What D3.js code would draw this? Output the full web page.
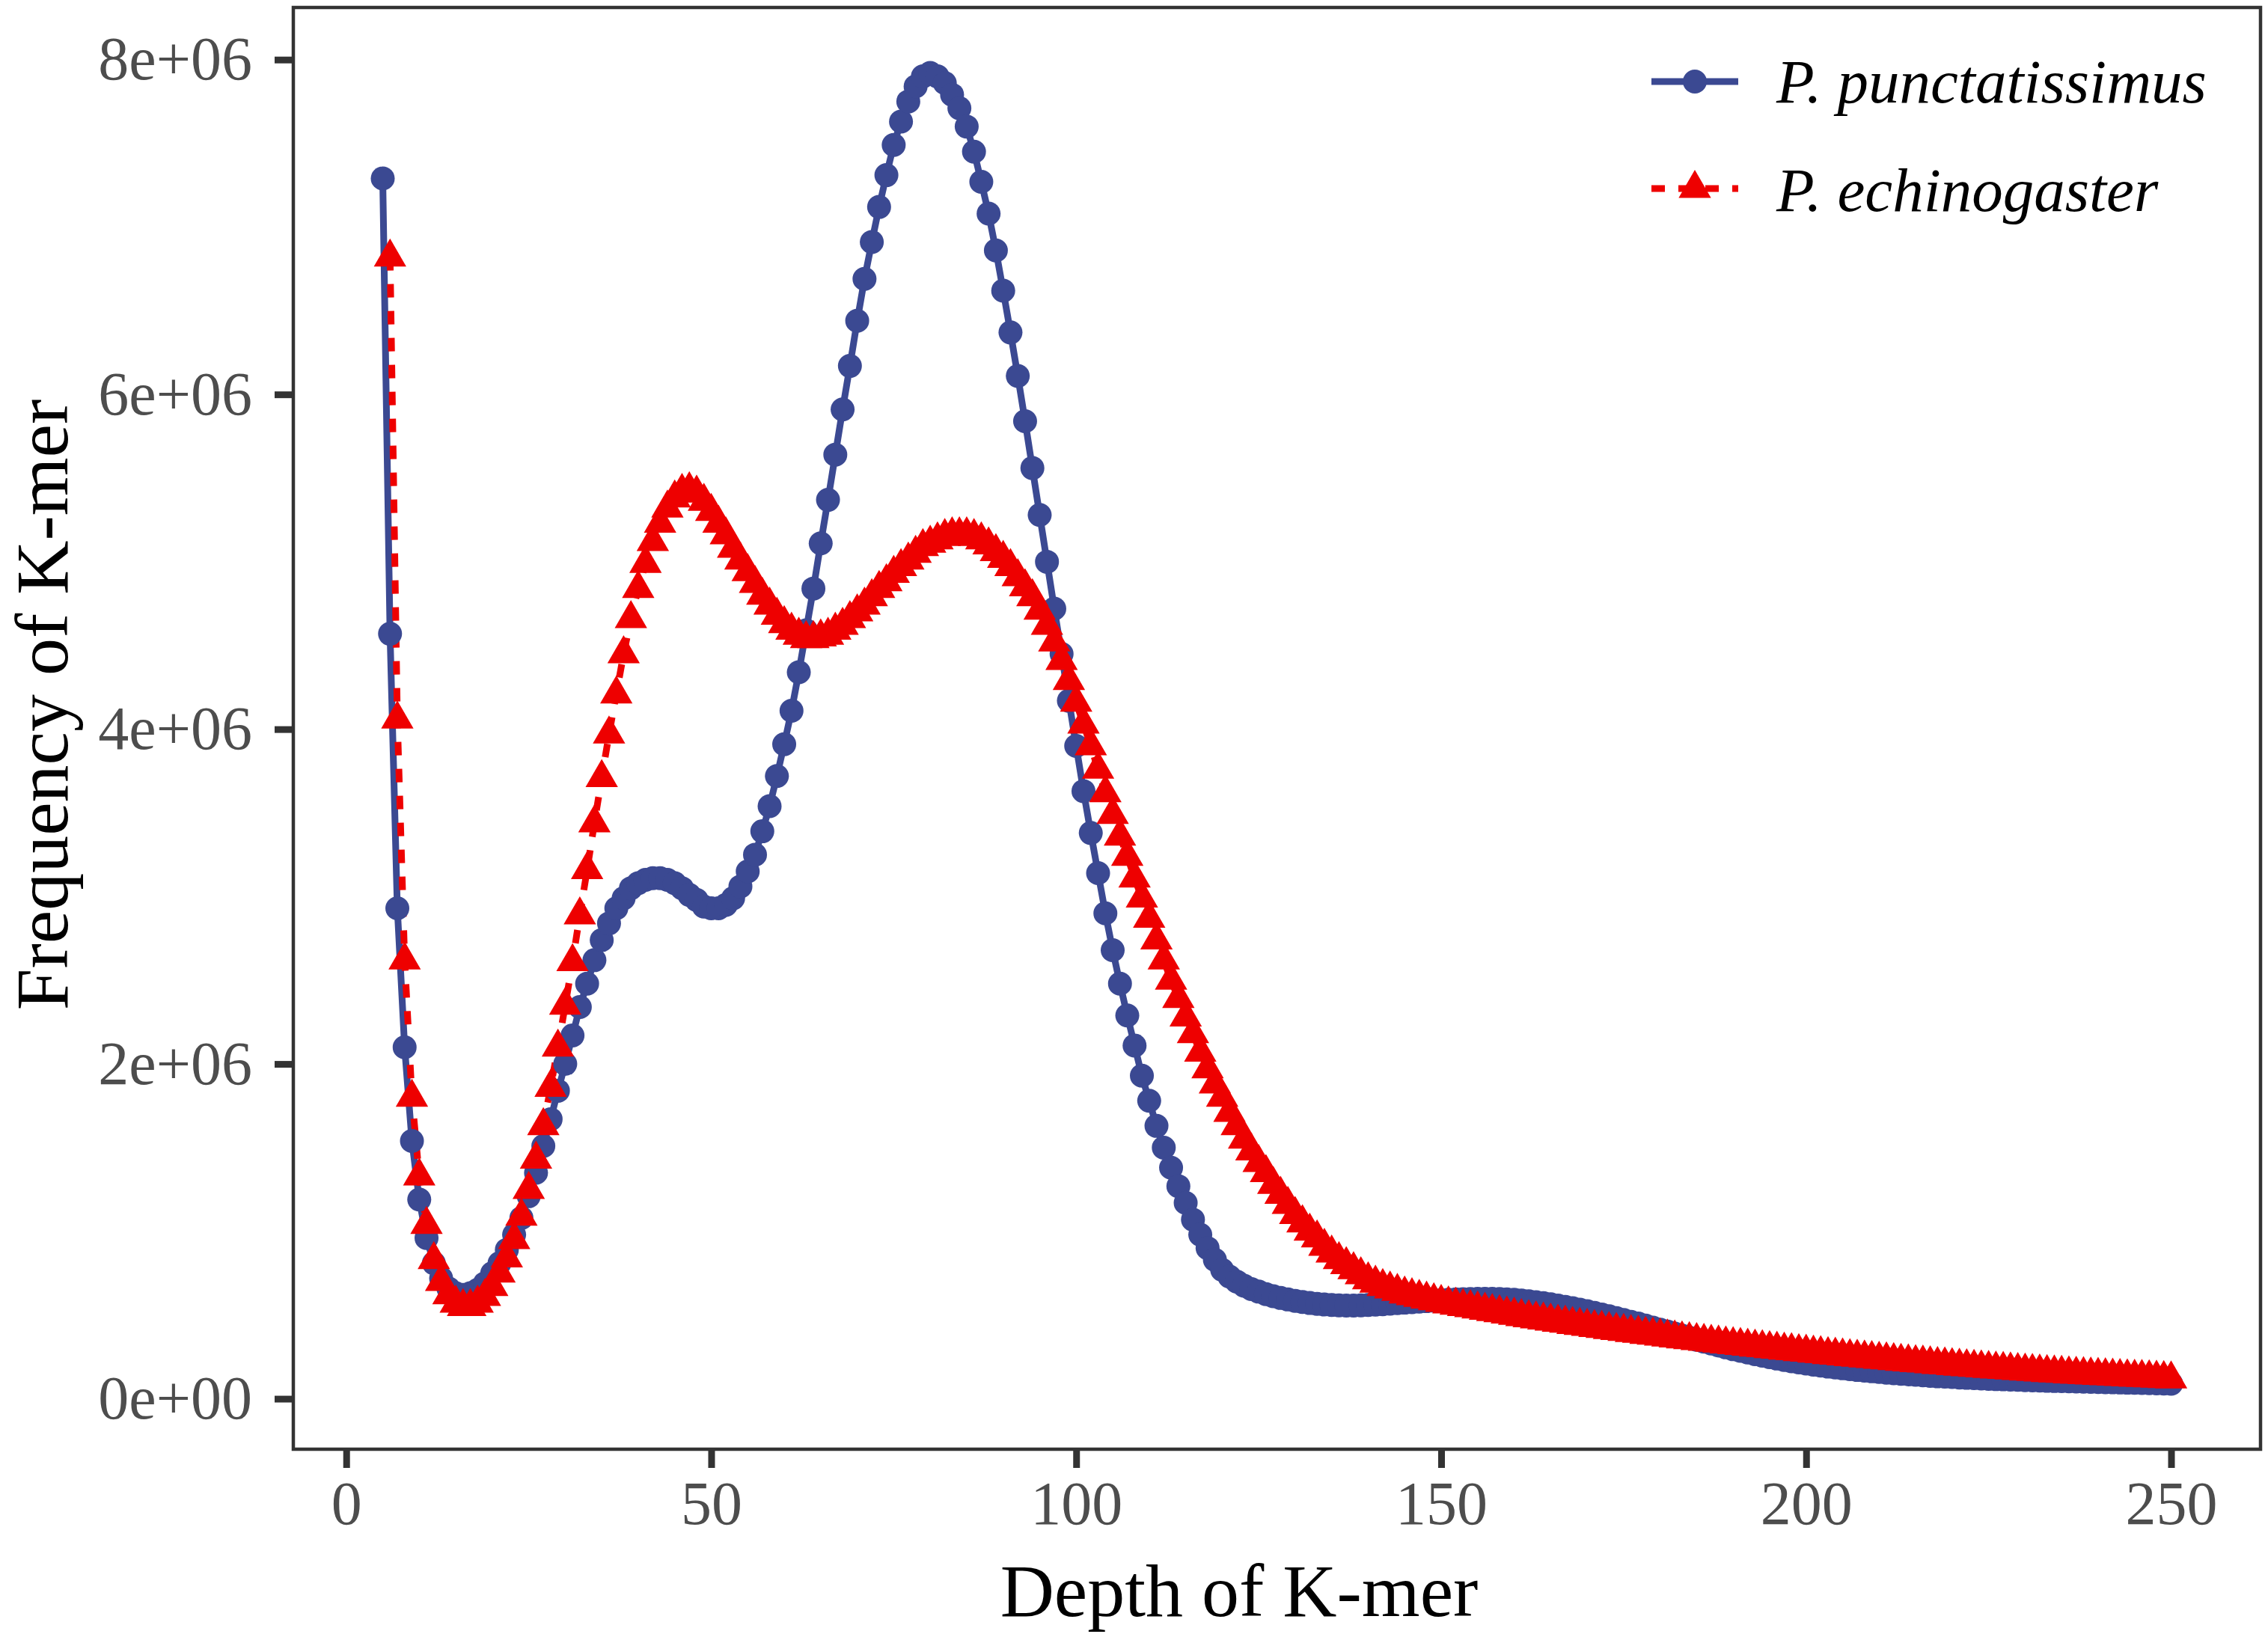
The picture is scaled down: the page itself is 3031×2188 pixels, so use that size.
<!DOCTYPE html>
<html>
<head>
<meta charset="utf-8">
<script src="https://cdn.jsdelivr.net/npm/d3@7"></script>
<style>
  body { margin: 0; background: #fff; }
  svg { display: block; font-family: 'Liberation Serif', 'Times New Roman', serif; }
</style>
</head>
<body>
<div id="chart"></div>
<script>
// k-mer depth (x) shared by both series
const depth = [
  5, 6, 7, 8, 9, 10, 11, 12, 13, 14,
  15, 16, 17, 18, 19, 20, 21, 22, 23, 24,
  25, 26, 27, 28, 29, 30, 31, 32, 33, 34,
  35, 36, 37, 38, 39, 40, 41, 42, 43, 44,
  45, 46, 47, 48, 49, 50, 51, 52, 53, 54,
  55, 56, 57, 58, 59, 60, 61, 62, 63, 64,
  65, 66, 67, 68, 69, 70, 71, 72, 73, 74,
  75, 76, 77, 78, 79, 80, 81, 82, 83, 84,
  85, 86, 87, 88, 89, 90, 91, 92, 93, 94,
  95, 96, 97, 98, 99, 100, 101, 102, 103, 104,
  105, 106, 107, 108, 109, 110, 111, 112, 113, 114,
  115, 116, 117, 118, 119, 120, 121, 122, 123, 124,
  125, 126, 127, 128, 129, 130, 131, 132, 133, 134,
  135, 136, 137, 138, 139, 140, 141, 142, 143, 144,
  145, 146, 147, 148, 149, 150, 151, 152, 153, 154,
  155, 156, 157, 158, 159, 160, 161, 162, 163, 164,
  165, 166, 167, 168, 169, 170, 171, 172, 173, 174,
  175, 176, 177, 178, 179, 180, 181, 182, 183, 184,
  185, 186, 187, 188, 189, 190, 191, 192, 193, 194,
  195, 196, 197, 198, 199, 200, 201, 202, 203, 204,
  205, 206, 207, 208, 209, 210, 211, 212, 213, 214,
  215, 216, 217, 218, 219, 220, 221, 222, 223, 224,
  225, 226, 227, 228, 229, 230, 231, 232, 233, 234,
  235, 236, 237, 238, 239, 240, 241, 242, 243, 244,
  245, 246, 247, 248, 249, 250,
];

// P. punctatissimus frequencies
const punctatissimus = [
  7290000, 4570000, 2930000, 2100000, 1540000, 1190000, 960000, 810000, 720000, 660000,
  630000, 620000, 630000, 650000, 690000, 750000, 810000, 890000, 980000, 1080000,
  1210000, 1350000, 1510000, 1670000, 1840000, 2000000, 2170000, 2340000, 2480000, 2620000,
  2740000, 2840000, 2930000, 2990000, 3050000, 3080000, 3100000, 3110000, 3110000, 3100000,
  3080000, 3050000, 3010000, 2980000, 2940000, 2930000, 2930000, 2950000, 2990000, 3060000,
  3150000, 3250000, 3390000, 3540000, 3720000, 3910000, 4110000, 4340000, 4590000, 4840000,
  5110000, 5370000, 5640000, 5910000, 6170000, 6440000, 6690000, 6910000, 7120000, 7310000,
  7490000, 7630000, 7750000, 7840000, 7900000, 7920000, 7900000, 7860000, 7790000, 7710000,
  7600000, 7450000, 7270000, 7080000, 6860000, 6620000, 6370000, 6110000, 5840000, 5560000,
  5280000, 5000000, 4720000, 4450000, 4170000, 3900000, 3630000, 3380000, 3140000, 2900000,
  2680000, 2480000, 2290000, 2110000, 1930000, 1780000, 1630000, 1500000, 1380000, 1270000,
  1170000, 1070000, 980000, 900000, 830000, 770000, 730000, 700000, 675000, 655000,
  640000, 625000, 613000, 602000, 593000, 585000, 578000, 572000, 567000, 563000,
  560000, 558000, 557000, 557000, 558000, 560000, 562000, 565000, 568000, 571000,
  574000, 577000, 580000, 583000, 586000, 589000, 591000, 593000, 595000, 596000,
  597000, 597000, 597000, 596000, 594000, 591000, 587000, 582000, 577000, 571000,
  564000, 557000, 549000, 541000, 532000, 523000, 513000, 503000, 493000, 482000,
  471000, 460000, 449000, 437000, 425000, 413000, 401000, 389000, 377000, 365000,
  353000, 341000, 330000, 318000, 307000, 296000, 286000, 276000, 266000, 257000,
  248000, 240000, 232000, 224000, 217000, 210000, 204000, 198000, 192000, 187000,
  182000, 177000, 172000, 168000, 164000, 160000, 156000, 152000, 149000, 146000,
  143000, 140000, 137000, 134000, 132000, 130000, 127000, 125000, 123000, 121000,
  119000, 117000, 116000, 114000, 113000, 111000, 110000, 109000, 107000, 106000,
  105000, 104000, 103000, 102000, 101000, 100000, 99000, 98000, 97000, 96000,
  95000, 94000, 93000, 92000, 91000, 90000,
];

// P. echinogaster frequencies (no value at depth 5)
const echinogaster = [
  null, 6820000, 4060000, 2620000, 1800000, 1330000, 1040000, 830000, 700000, 620000,
  570000, 550000, 550000, 570000, 610000, 670000, 750000, 840000, 950000, 1090000,
  1250000, 1430000, 1630000, 1860000, 2100000, 2350000, 2610000, 2890000, 3160000, 3440000,
  3710000, 3970000, 4210000, 4450000, 4660000, 4840000, 4990000, 5120000, 5230000, 5320000,
  5380000, 5420000, 5430000, 5410000, 5360000, 5300000, 5230000, 5160000, 5080000, 5010000,
  4940000, 4870000, 4800000, 4740000, 4680000, 4630000, 4590000, 4560000, 4540000, 4540000,
  4550000, 4560000, 4590000, 4620000, 4660000, 4700000, 4740000, 4790000, 4840000, 4880000,
  4930000, 4970000, 5010000, 5050000, 5090000, 5110000, 5130000, 5150000, 5160000, 5160000,
  5160000, 5150000, 5130000, 5100000, 5060000, 5020000, 4970000, 4910000, 4850000, 4790000,
  4710000, 4620000, 4520000, 4410000, 4290000, 4160000, 4030000, 3900000, 3760000, 3620000,
  3490000, 3360000, 3240000, 3110000, 2990000, 2870000, 2740000, 2620000, 2500000, 2390000,
  2280000, 2180000, 2070000, 1970000, 1880000, 1800000, 1710000, 1630000, 1550000, 1480000,
  1410000, 1350000, 1280000, 1220000, 1160000, 1100000, 1050000, 1000000, 960000, 910000,
  870000, 830000, 800000, 770000, 740000, 710000, 690000, 670000, 655000, 640000,
  625000, 615000, 605000, 595000, 585000, 575000, 566000, 558000, 550000, 543000,
  535000, 528000, 520000, 513000, 505000, 498000, 490000, 483000, 476000, 470000,
  463000, 456000, 450000, 443000, 437000, 431000, 425000, 419000, 413000, 407000,
  401000, 395000, 390000, 384000, 379000, 373000, 368000, 362000, 357000, 352000,
  347000, 342000, 337000, 332000, 327000, 322000, 318000, 313000, 308000, 304000,
  299000, 295000, 290000, 286000, 281000, 277000, 272000, 268000, 263000, 259000,
  255000, 251000, 247000, 243000, 239000, 235000, 231000, 227000, 223000, 219000,
  215000, 212000, 208000, 204000, 201000, 197000, 194000, 190000, 187000, 184000,
  180000, 177000, 174000, 171000, 168000, 165000, 162000, 159000, 156000, 153000,
  151000, 148000, 146000, 143000, 141000, 139000, 136000, 134000, 132000, 130000,
  128000, 126000, 124000, 122000, 120000, 118000,
];

const seriesNames = ['P. punctatissimus', 'P. echinogaster'];
const xTicks = [0, 50, 100, 150, 200, 250];
const yTicks = [0, 2000000, 4000000, 6000000, 8000000];

class KmerChart {
  constructor(element) {
    this.element = element;

    this.init();
  }

  init() {
    this.initSvg();
    this.initScales();
    this.drawAxes();
    this.drawSeries();
    this.drawBorder();
    this.drawLegend();
  }

  getConstants() {
    const width = 3031;
    const height = 2188;
    const panel = { left: 392, right: 3021, top: 10, bottom: 1937 };
    const colors = ['#3B4992', '#EE0000'];
    const lineWidth = 9;
    return {
      width, height, panel, colors, lineWidth,
    };
  }

  initSvg() {
    const { width, height } = this.getConstants();
    this.svg = d3.select(this.element)
      .append('svg')
      .attr('width', width)
      .attr('height', height);
    this.svg.append('rect')
      .attr('width', width)
      .attr('height', height)
      .attr('fill', '#ffffff');
  }

  // ggplot-like 5% expansion on both sides
  expand([lo, hi]) {
    const pad = (hi - lo) * 0.05;
    return [lo - pad, hi + pad];
  }

  initScales() {
    const { panel } = this.getConstants();
    const allValues = punctatissimus.concat(echinogaster).filter((v) => v != null);
    this.x = d3.scaleLinear()
      .domain(this.expand(d3.extent(depth)))
      .range([panel.left, panel.right]);
    this.y = d3.scaleLinear()
      .domain(this.expand(d3.extent(allValues)))
      .range([panel.bottom, panel.top]);
  }

  sciFormat(d) {
    const [mantissa, exp] = d3.format('.0e')(d).split('e');
    return `${mantissa}e${exp[0]}${exp.slice(1).padStart(2, '0')}`;
  }

  styleAxis(axisGroup) {
    axisGroup.select('.domain').remove();
    axisGroup.selectAll('.tick line')
      .attr('stroke', '#333333')
      .attr('stroke-width', 9);
    axisGroup.selectAll('.tick text')
      .attr('fill', '#4D4D4D')
      .style('font-size', '82px')
      .style('font-family', "'Liberation Serif', 'Times New Roman', serif");
  }

  drawAxes() {
    const { panel } = this.getConstants();

    const yAxis = this.svg.append('g')
      .attr('transform', `translate(${panel.left},0)`)
      .call(d3.axisLeft(this.y)
        .tickValues(yTicks)
        .tickFormat((d) => this.sciFormat(d))
        .tickSize(25)
        .tickPadding(30));
    this.styleAxis(yAxis);

    const xAxis = this.svg.append('g')
      .attr('transform', `translate(0,${panel.bottom})`)
      .call(d3.axisBottom(this.x)
        .tickValues(xTicks)
        .tickSize(25)
        .tickPadding(17));
    this.styleAxis(xAxis);

    this.svg.append('text')
      .attr('x', 1656)
      .attr('y', 2160)
      .attr('text-anchor', 'middle')
      .attr('fill', '#000000')
      .style('font-size', '100px')
      .text('Depth of K-mer');

    this.svg.append('text')
      .attr('transform', 'translate(90,942) rotate(-90)')
      .attr('text-anchor', 'middle')
      .attr('fill', '#000000')
      .style('font-size', '100px')
      .text('Frequency of K-mer');
  }

  drawSeries() {
    const { colors, lineWidth } = this.getConstants();
    const series = [punctatissimus, echinogaster].map((values, i) => ({
      name: seriesNames[i],
      color: colors[i],
      points: depth.map((d, j) => ({ depth: d, value: values[j] }))
        .filter((p) => p.value != null),
    }));

    const line = d3.line()
      .x((d) => this.x(d.depth))
      .y((d) => this.y(d.value));

    const plot = this.svg.append('g');

    plot.selectAll('path.series-line')
      .data(series)
      .enter()
      .append('path')
      .attr('class', 'series-line')
      .attr('d', (d) => line(d.points))
      .attr('fill', 'none')
      .attr('stroke', (d) => d.color)
      .attr('stroke-width', lineWidth)
      .attr('stroke-dasharray', (d, i) => (i === 1 ? '18,18' : null));

    // circles for the first series
    plot.append('g')
      .selectAll('circle')
      .data(series[0].points)
      .enter()
      .append('circle')
      .attr('cx', (d) => this.x(d.depth))
      .attr('cy', (d) => this.y(d.value))
      .attr('r', 16)
      .attr('fill', colors[0]);

    // triangles for the second series
    const triangle = d3.symbol().type(d3.symbolTriangle).size(812);
    plot.append('g')
      .selectAll('path')
      .data(series[1].points)
      .enter()
      .append('path')
      .attr('d', triangle)
      .attr('transform', (d) => `translate(${this.x(d.depth)},${this.y(d.value)})`)
      .attr('fill', colors[1]);
  }

  drawBorder() {
    const { panel } = this.getConstants();
    this.svg.append('rect')
      .attr('x', panel.left)
      .attr('y', panel.top)
      .attr('width', panel.right - panel.left)
      .attr('height', panel.bottom - panel.top)
      .attr('fill', 'none')
      .attr('stroke', '#333333')
      .attr('stroke-width', 4.5);
  }

  drawLegend() {
    const { colors, lineWidth } = this.getConstants();
    const rows = [109, 252];
    const legend = this.svg.append('g');

    seriesNames.forEach((name, i) => {
      const row = legend.append('g')
        .attr('transform', `translate(0,${rows[i]})`);
      row.append('line')
        .attr('x1', 2207)
        .attr('x2', 2323)
        .attr('stroke', colors[i])
        .attr('stroke-width', lineWidth)
        .attr('stroke-dasharray', i === 1 ? '18,18' : null);
      if (i === 0) {
        row.append('circle')
          .attr('cx', 2265)
          .attr('r', 16)
          .attr('fill', colors[i]);
      } else {
        row.append('path')
          .attr('d', d3.symbol().type(d3.symbolTriangle).size(812))
          .attr('transform', 'translate(2265,0)')
          .attr('fill', colors[i]);
      }
      row.append('text')
        .attr('x', 2374)
        .attr('y', i === 0 ? 28 : 30)
        .attr('fill', '#000000')
        .style('font-size', '83px')
        .style('font-style', 'italic')
        .text(name);
    });
  }
}

new KmerChart(document.getElementById('chart'));
</script>
</body>
</html>
